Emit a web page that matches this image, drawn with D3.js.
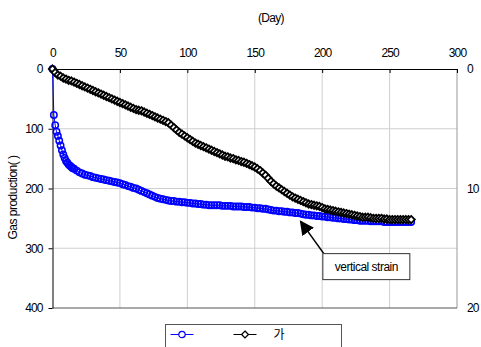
<!DOCTYPE html>
<html>
<head>
<meta charset="utf-8">
<script src="https://cdn.jsdelivr.net/npm/d3@7"></script>
<style>
  body { margin: 0; background: #fff; }
  svg text { font-family: "Liberation Sans", Arial, sans-serif; fill: #000; }
</style>
</head>
<body>
<script>
// values (gas: left axis, strain: right axis)
const gasDays = [0, 1, 2, 3, 4, 5, 6, 7, 8, 9, 10, 11, 12, 13, 14, 15, 16, 18, 20, 22, 24, 26, 28, 30, 32, 34,
  36, 38, 40, 42, 44, 46, 48, 50, 52, 54, 56, 58, 60, 62, 64, 66, 68, 70, 72, 74, 76, 78, 80, 82, 84, 86, 88,
  90, 92, 94, 96, 98, 100, 102, 104, 106, 108, 110, 112, 114, 116, 118, 120, 122, 124, 126, 128, 130, 132,
  134, 136, 138, 140, 142, 144, 146, 148, 150, 152, 154, 156, 158, 160, 162, 164, 166, 168, 170, 172, 174,
  176, 178, 180, 182, 184, 186, 188, 190, 192, 194, 196, 198, 200, 202, 204, 206, 208, 210, 212, 214, 216,
  218, 220, 222, 224, 226, 228, 230, 232, 234, 236, 238, 240, 242, 244, 246, 248, 250, 252, 254, 256, 258,
  260, 262, 264, 266]
const gasValues = [0, 77, 94, 105, 112, 120, 128, 136, 143, 149, 154, 157, 160, 162, 164, 166, 167,
  170, 173, 175, 177, 178, 179, 181, 182, 183,
  184, 185, 186, 187, 188, 189, 190, 191, 193, 194, 196, 197, 199, 200, 202, 204, 206, 208, 210, 212, 214,
  216, 217, 218, 219, 220, 221, 221, 222, 222, 223, 223, 224, 224, 225, 225, 226, 226, 227, 227, 228, 228,
  228, 228, 228, 229, 229, 229, 229, 230, 230, 230, 230, 231, 231, 231, 232, 232, 233, 233, 234, 234, 235,
  236, 237, 237, 238, 238, 239, 239, 240, 240, 241, 241, 242, 243, 244, 244, 245, 245, 246, 246, 247, 247,
  248, 248, 249, 249, 250, 250, 251, 251, 252, 252, 253, 253, 254, 254, 254, 254, 255, 255, 255, 255, 255,
  256, 256, 256, 256, 256, 256, 256, 256, 256, 256, 256]

const strainDays = [0, 2, 4, 6, 8, 10, 12, 14, 16, 18, 20, 22, 24, 26, 28, 30, 32, 34, 36, 38, 40, 42, 44, 46,
  48, 50, 52, 54, 56, 58, 60, 62, 64, 66, 68, 70, 72, 74, 76, 78, 80, 82, 84, 86, 88, 90, 92, 94, 96, 98, 100,
  102, 104, 106, 108, 110, 112, 114, 116, 118, 120, 122, 124, 126, 128, 130, 132, 134, 136, 138, 140, 142,
  144, 146, 148, 150, 152, 154, 156, 158, 160, 162, 164, 166, 168, 170, 172, 174, 176, 178, 180, 182, 184,
  186, 188, 190, 192, 194, 196, 198, 200, 202, 204, 206, 208, 210, 212, 214, 216, 218, 220, 222, 224, 226,
  228, 230, 232, 234, 236, 238, 240, 242, 244, 246, 248, 250, 252, 254, 256, 258, 260, 262, 264, 266]
const strainValues = [0, 0.3, 0.5, 0.6, 0.75, 0.85, 0.95, 1.0, 1.1, 1.2, 1.3, 1.4, 1.5, 1.6, 1.7, 1.8, 1.9,
  2.0, 2.1, 2.2, 2.3, 2.4, 2.5, 2.6, 2.7, 2.8, 2.9, 3.0, 3.1, 3.2, 3.3, 3.4, 3.45, 3.5, 3.6, 3.7, 3.8, 3.9,
  4.0, 4.1, 4.2, 4.3, 4.4, 4.5, 4.7, 4.9, 5.1, 5.3, 5.45, 5.6, 5.75, 5.9, 6.05, 6.2, 6.3, 6.4, 6.5, 6.6, 6.7,
  6.8, 6.9, 7.0, 7.1, 7.2, 7.3, 7.35, 7.45, 7.5, 7.6, 7.65, 7.75, 7.8, 7.9, 8.0, 8.1, 8.2, 8.35, 8.5, 8.7,
  8.9, 9.15, 9.4, 9.6, 9.8, 9.95, 10.1, 10.25, 10.4, 10.55, 10.7, 10.8, 10.9, 11.0, 11.1, 11.2, 11.3, 11.35,
  11.4, 11.45, 11.5, 11.6, 11.7, 11.75, 11.8, 11.85, 11.9, 11.95, 12.0, 12.05, 12.1, 12.15, 12.2, 12.25,
  12.3, 12.35, 12.4, 12.4, 12.4, 12.45, 12.5, 12.5, 12.5, 12.5, 12.55, 12.55, 12.6, 12.6, 12.6, 12.6, 12.6,
  12.6, 12.6, 12.6, 12.6]

const dayTicks = [0, 50, 100, 150, 200, 250, 300]
const gasTicks = [0, 100, 200, 300, 400]
const strainTicks = [0, 10, 20]
const legendLabels = ['', '가']

const W = 481, H = 347
const margin = { left: 52.5, right: 24, top: 69, bottom: 39 }

const svg = d3.select('body').append('svg')
  .attr('width', W)
  .attr('height', H)

const x = d3.scaleLinear().domain([0, 300]).range([margin.left, W - margin.right])
const y = d3.scaleLinear().domain([0, 400]).range([margin.top, H - margin.bottom])
const y2 = d3.scaleLinear().domain([0, 20]).range([margin.top, H - margin.bottom])

// grid
svg.append('g')
  .selectAll('line')
  .data(dayTicks.slice(1, -1))
  .join('line')
  .attr('x1', d => x(d)).attr('x2', d => x(d))
  .attr('y1', y(0)).attr('y2', y(400))
  .attr('stroke', '#cfcfcf')
svg.append('g')
  .selectAll('line')
  .data(gasTicks.slice(1, -1))
  .join('line')
  .attr('x1', x(0)).attr('x2', x(300))
  .attr('y1', d => y(d)).attr('y2', d => y(d))
  .attr('stroke', '#cfcfcf')

// border: right and bottom
svg.append('line')
  .attr('x1', x(300)).attr('x2', x(300)).attr('y1', y(0)).attr('y2', y(400))
  .attr('stroke', '#999')
svg.append('line')
  .attr('x1', x(0)).attr('x2', x(300)).attr('y1', y(400)).attr('y2', y(400))
  .attr('stroke', '#555')

// axes
const topAxis = svg.append('g')
  .attr('transform', `translate(0,${margin.top})`)
  .call(d3.axisTop(x).tickValues(dayTicks).tickSizeInner(-4).tickSizeOuter(0).tickPadding(12))
topAxis.select('.domain').attr('stroke', '#000')
topAxis.selectAll('text').attr('font-size', 12).attr('letter-spacing', -0.9)

const leftAxis = svg.append('g')
  .attr('transform', `translate(${margin.left},0)`)
  .call(d3.axisLeft(y).tickValues(gasTicks).tickSize(4).tickSizeOuter(0).tickPadding(6))
leftAxis.selectAll('text').attr('font-size', 12).attr('letter-spacing', -0.9)

const rightAxis = svg.append('g')
  .attr('transform', `translate(${x(300)},0)`)
  .call(d3.axisRight(y2).tickValues(strainTicks).tickSize(0).tickPadding(10))
rightAxis.select('.domain').remove()
rightAxis.selectAll('text').attr('font-size', 12).attr('letter-spacing', -0.9)

svg.append('text')
  .attr('x', 271).attr('y', 22)
  .attr('text-anchor', 'middle')
  .attr('font-size', 12).attr('letter-spacing', -0.7)
  .text('(Day)')

svg.append('text')
  .attr('transform', `translate(17,${(y(0) + y(400)) / 2 + 9}) rotate(-90)`)
  .attr('text-anchor', 'middle')
  .attr('font-size', 12).attr('letter-spacing', -0.5)
  .text('Gas production( )')

// series
const gasData = gasDays.map((d, i) => [d, gasValues[i]])
const strainData = strainDays.map((d, i) => [d, strainValues[i]])

svg.append('path')
  .datum(gasData)
  .attr('fill', 'none').attr('stroke', '#0000ff').attr('stroke-width', 1)
  .attr('d', d3.line().x(d => x(d[0])).y(d => y(d[1])))
svg.append('g')
  .selectAll('circle')
  .data(gasData)
  .join('circle')
  .attr('cx', d => x(d[0])).attr('cy', d => y(d[1]))
  .attr('r', 3.2)
  .attr('fill', 'none').attr('stroke', '#0000ff').attr('stroke-width', 1.5)

const diamond = d3.symbol().type(d3.symbolDiamond2).size(34)
svg.append('path')
  .datum(strainData)
  .attr('fill', 'none').attr('stroke', '#000').attr('stroke-width', 1)
  .attr('d', d3.line().x(d => x(d[0])).y(d => y2(d[1])))
svg.append('g')
  .selectAll('path')
  .data(strainData)
  .join('path')
  .attr('transform', d => `translate(${x(d[0])},${y2(d[1])})`)
  .attr('d', diamond)
  .attr('fill', '#fff').attr('stroke', '#000').attr('stroke-width', 1.8)

// annotation
svg.append('defs').append('marker')
  .attr('id', 'head')
  .attr('viewBox', '0 0 10 10')
  .attr('refX', 9).attr('refY', 5)
  .attr('markerWidth', 9).attr('markerHeight', 9)
  .attr('orient', 'auto')
  .append('path').attr('d', 'M0,0L10,5L0,10z').attr('fill', '#000')

const boxX = x(200.5), boxY = y(309), boxW = 87, boxH = 26
svg.append('line')
  .attr('x1', boxX + 1).attr('y1', boxY)
  .attr('x2', x(184)).attr('y2', y(255))
  .attr('stroke', '#000').attr('stroke-width', 1.6)
  .attr('marker-end', 'url(#head)')
svg.append('rect')
  .attr('x', boxX).attr('y', boxY).attr('width', boxW).attr('height', boxH)
  .attr('fill', '#fff').attr('stroke', '#333')
svg.append('text')
  .attr('x', boxX + boxW / 2).attr('y', boxY + 17)
  .attr('text-anchor', 'middle')
  .attr('font-size', 12).attr('letter-spacing', -0.5)
  .text('vertical strain')

// legend
const lg = svg.append('g').attr('transform', 'translate(165.5,324.5)')
lg.append('rect')
  .attr('width', 176).attr('height', 30)
  .attr('fill', '#fff').attr('stroke', '#555')
const items = [
  { color: '#0000ff', shape: 'circle', x0: 5 },
  { color: '#000', shape: 'diamond', x0: 68 }
]
items.forEach((it, i) => {
  const g = lg.append('g').attr('transform', `translate(${it.x0},10)`)
  g.append('line').attr('x1', 0).attr('x2', 23).attr('stroke', it.color)
  if (it.shape === 'circle') {
    g.append('circle').attr('cx', 11.5).attr('r', 3.2)
      .attr('fill', '#fff').attr('stroke', it.color).attr('stroke-width', 1.2)
  } else {
    g.append('path').attr('transform', 'translate(11.5,0)').attr('d', d3.symbol().type(d3.symbolDiamond2).size(30))
      .attr('fill', '#fff').attr('stroke', it.color).attr('stroke-width', 1.3)
  }
  g.append('text').attr('x', 40).attr('y', 4)
    .attr('font-size', 12)
    .style('font-family', '"Noto Sans CJK KR", sans-serif')
    .text(legendLabels[i])
})
</script>
</body>
</html>
